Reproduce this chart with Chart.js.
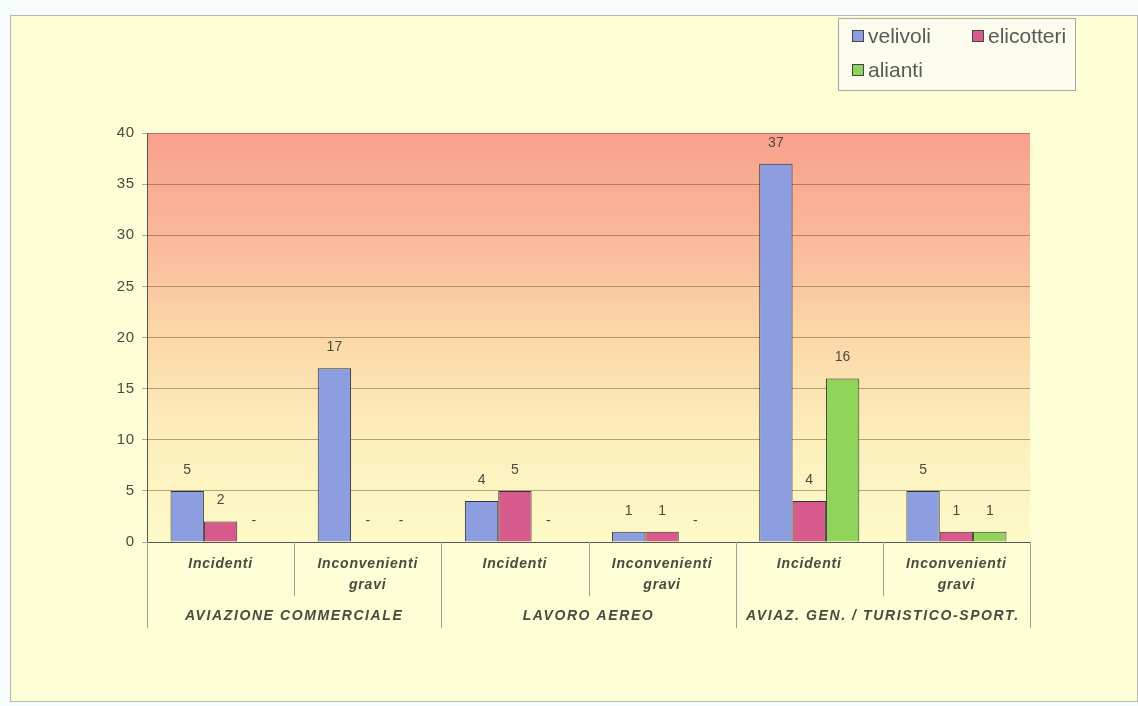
<!DOCTYPE html>
<html>
<head>
<meta charset="utf-8">
<script src="https://cdn.jsdelivr.net/npm/chart.js@4.4.0/dist/chart.umd.min.js"></script>
<style>
html, body { margin: 0; padding: 0; background: #f6fbfb; }
#wrap { width: 1138px; height: 706px; position: relative; }
</style>
</head>
<body>
<div id="wrap"><canvas id="myChart" width="1138" height="706"></canvas></div>
<script>
// data
var categories = [['Incidenti'], ['Inconvenienti', 'gravi'], ['Incidenti'], ['Inconvenienti', 'gravi'], ['Incidenti'], ['Inconvenienti', 'gravi']];
var groups = ['AVIAZIONE COMMERCIALE', 'LAVORO AEREO', 'AVIAZ. GEN. / TURISTICO-SPORT.'];
var seriesNames = ['velivoli', 'elicotteri', 'alianti'];
var velivoli = [5, 17, 4, 1, 37, 5];
var elicotteri = [2, 0, 5, 1, 4, 1];
var alianti = [0, 0, 0, 0, 16, 1];
var yMax = 40;
var yStep = 5;

var FONT = "'Liberation Sans', Arial, sans-serif";
var TEXT = '#4a4a40';

var backgroundPlugin = {
    id: 'paper',
    beforeDraw: function(chart){
        var c = chart.ctx, a = chart.chartArea;
        c.fillStyle = '#f6fbfb';
        c.fillRect(0, 0, chart.width, chart.height);
        c.fillStyle = '#fdfdd6';
        c.fillRect(10, 15, 1127, 686);
        c.strokeStyle = '#b8b8b0';
        c.lineWidth = 1;
        c.strokeRect(10.5, 15.5, 1127, 686);
        // plot area gradient
        var g = c.createLinearGradient(0, a.top, 0, a.bottom);
        g.addColorStop(0, '#f8a08c');
        g.addColorStop(0.25, '#f9b89a');
        g.addColorStop(0.5, '#fbd8a8');
        g.addColorStop(0.75, '#fcefbc');
        g.addColorStop(1, '#fcfac8');
        c.fillStyle = g;
        c.fillRect(a.left, a.top, a.right - a.left, a.bottom - a.top);
        // wider spacing for the axis labels drawn next
        c.letterSpacing = '0.8px';
    },
    afterDraw: function(chart){
        var c = chart.ctx, a = chart.chartArea;
        var x = chart.scales.x;
        c.save();

        // value labels
        c.letterSpacing = '0px';
        c.font = '14px ' + FONT;
        c.fillStyle = TEXT;
        c.textAlign = 'center';
        c.textBaseline = 'middle';
        chart.data.datasets.forEach(function(ds, di){
            var meta = chart.getDatasetMeta(di);
            meta.data.forEach(function(bar, i){
                var v = ds.data[i];
                c.fillText(v === 0 ? '-' : String(v), bar.x, bar.y - 21);
            });
        });

        // category dividers below the axis
        var n = categories.length;
        var bounds = [];
        for (var i = 0; i <= n; i++) {
            if (i === 0) bounds.push(a.left);
            else if (i === n) bounds.push(a.right);
            else bounds.push((x.getPixelForTick(i - 1) + x.getPixelForTick(i)) / 2);
        }
        c.strokeStyle = '#a0a090';
        c.lineWidth = 1;
        bounds.forEach(function(bx, i){
            var px = Math.round(bx) + 0.5;
            c.beginPath();
            c.moveTo(px, a.bottom);
            c.lineTo(px, i % 2 === 0 ? a.bottom + 86 : a.bottom + 54);
            c.stroke();
        });

        // group labels
        c.letterSpacing = '1.6px';
        c.font = 'italic bold 14px ' + FONT;
        c.fillStyle = TEXT;
        groups.forEach(function(gname, gi){
            var cx = (bounds[gi * 2] + bounds[gi * 2 + 2]) / 2;
            c.fillText(gname, cx, a.bottom + 74);
        });

        // legend box
        c.letterSpacing = '0px';
        var lx = 838, ly = 18, lw = 237, lh = 72;
        c.fillStyle = '#fbfcee';
        c.fillRect(lx, ly, lw, lh);
        c.strokeStyle = '#a8a8a0';
        c.strokeRect(lx + 0.5, ly + 0.5, lw, lh);
        var spots = [[852, 36], [972, 36], [852, 70]];
        c.font = '21px ' + FONT;
        c.textAlign = 'left';
        chart.data.datasets.forEach(function(ds, di){
            var p = spots[di];
            c.fillStyle = ds.backgroundColor;
            c.fillRect(p[0], p[1] - 6, 12, 12);
            c.strokeStyle = '#444';
            c.strokeRect(p[0] + 0.5, p[1] - 5.5, 11, 11);
            c.fillStyle = '#5a5a5a';
            c.fillText(ds.label, p[0] + 16, p[1] + 1);
        });
        c.restore();
    }
};

var ctx = document.getElementById('myChart');
new Chart(ctx, {
    type: 'bar',
    data: {
        labels: categories,
        datasets: [
            { label: seriesNames[0], data: velivoli, backgroundColor: '#8c9ee0', borderColor: '#333', borderWidth: 1 },
            { label: seriesNames[1], data: elicotteri, backgroundColor: '#d75a8c', borderColor: '#333', borderWidth: 1 },
            { label: seriesNames[2], data: alianti, backgroundColor: '#90d45c', borderColor: '#333', borderWidth: 1 }
        ]
    },
    plugins: [backgroundPlugin],
    options: {
        responsive: false,
        animation: false,
        devicePixelRatio: 1,
        categoryPercentage: 0.68,
        barPercentage: 1.0,
        layout: { padding: { top: 133, right: 108, bottom: 70, left: 0 } },
        plugins: {
            legend: { display: false },
            tooltip: { enabled: false }
        },
        scales: {
            x: {
                grid: { display: false },
                border: { display: true, color: '#555' },
                ticks: {
                    color: TEXT,
                    padding: 4,
                    font: { family: FONT, size: 14, style: 'italic', weight: 'bold', lineHeight: 1.5 }
                },
                afterFit: function(scale){ scale.height = 94; }
            },
            y: {
                min: 0,
                max: yMax,
                ticks: {
                    stepSize: yStep,
                    color: TEXT,
                    padding: 7,
                    font: { family: FONT, size: 15 }
                },
                grid: { color: 'rgba(110,80,60,0.5)', tickLength: 5 },
                border: { display: true, color: '#555' },
                afterFit: function(scale){ scale.width = 147; }
            }
        }
    }
});
</script>
</body>
</html>
